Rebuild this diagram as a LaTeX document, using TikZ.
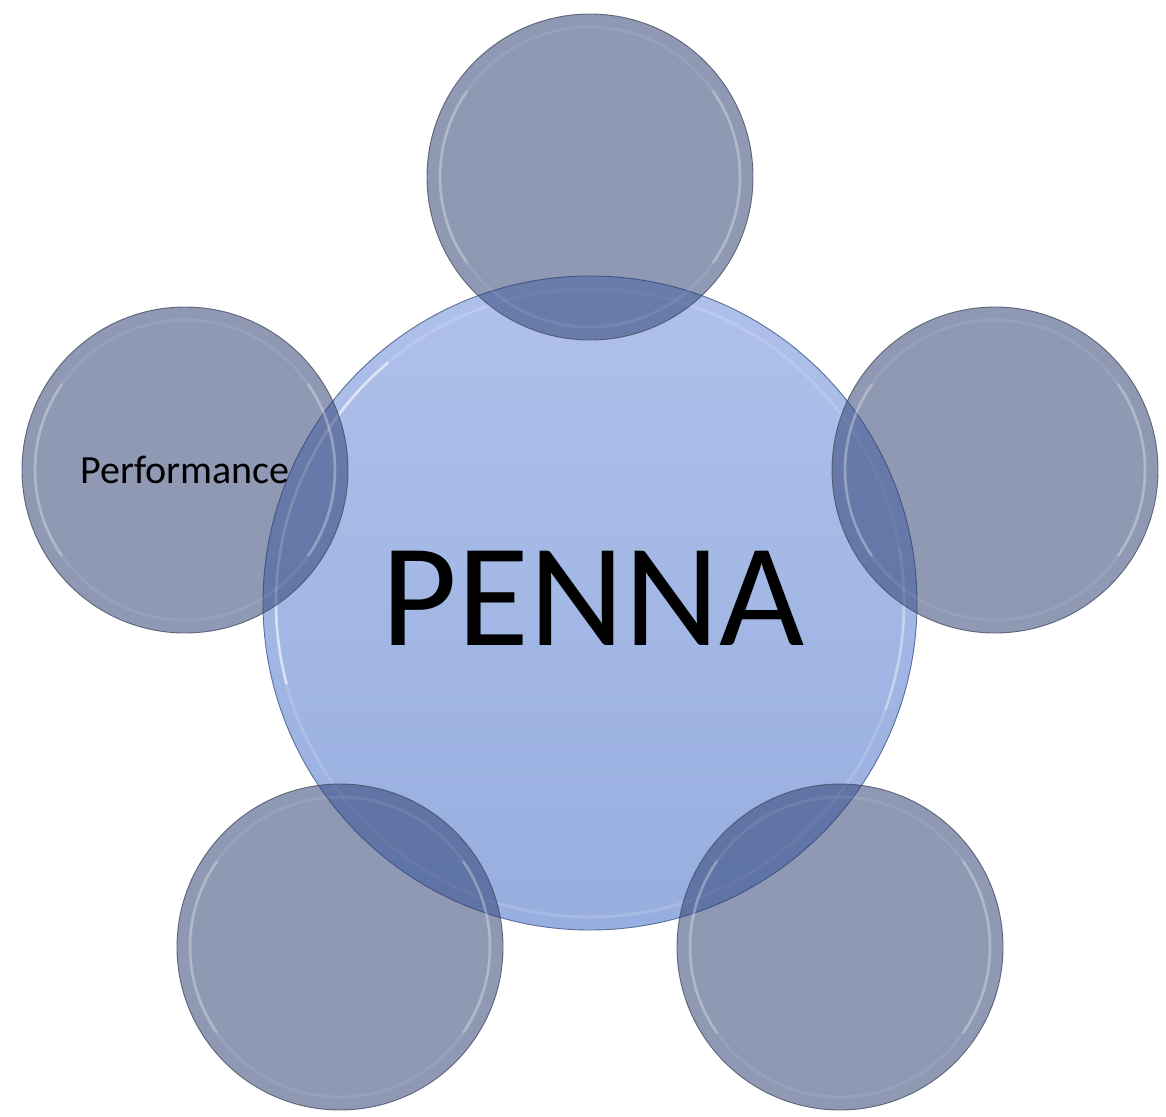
\documentclass[tikz,border=0pt]{standalone}
\usepackage{fontspec}
\setmainfont{Carlito}
\definecolor{bigtop}{HTML}{AFC1EA}
\definecolor{bigbot}{HTML}{97AEE0}
\definecolor{bigedge}{HTML}{5B6E9C}
\definecolor{smallfill}{HTML}{2B3D70}
\definecolor{smalledge}{HTML}{474E63}
\tikzset{
  bigc/.style={circle, inner sep=0pt, minimum size=654pt, top color=bigtop, bottom color=bigbot, draw=bigedge, line width=0.9pt},
  smallc/.style={circle, inner sep=0pt, minimum size=326pt, fill=smallfill, fill opacity=0.52, text opacity=1, draw=smalledge, draw opacity=0.8, line width=0.9pt, font=\fontsize{40}{46}\selectfont},
  bevel/.style={draw=white, draw opacity=0.08, line width=3pt},
  bevelhi/.style={draw=white, draw opacity=0.25, line width=2.5pt},
  bevelbig/.style={draw=white, draw opacity=0.15, line width=3pt},
}
\begin{document}
\begin{tikzpicture}[x=1pt,y=-1pt]
\useasboundingbox (0,0) rectangle (1166,1116);
\fill[white] (0,0) rectangle (1166,1116);
% central circle
\node[bigc] (penna) at (590,603) {};
\draw[bevelbig] (penna.center) circle (314pt);
\draw[draw=white, draw opacity=0.55, line width=2.5pt] (penna.center) ++(165:314) arc (165:230:314);
\draw[draw=white, draw opacity=0.3, line width=2.5pt] (penna.center) ++(-10:314) arc (-10:20:314);
\node[font=\fontsize{147}{160}\selectfont] (pennalabel) at (593,598) {PENNA};
% satellite circles
\node[smallc] (top) at (590,177) {};
\node[smallc] (left) at (185,470) {Performance};
\node[smallc] (right) at (995,470) {};
\node[smallc] (bl) at (340,947) {};
\node[smallc] (br) at (840,947) {};
\foreach \c in {top,left,right,bl,br}{
  \draw[bevel] (\c.center) circle (150pt);
  \draw[bevelhi] (\c.center) ++(145:150) arc (145:215:150);
  \draw[bevelhi] (\c.center) ++(-35:150) arc (-35:35:150);
}
\end{tikzpicture}
\end{document}
